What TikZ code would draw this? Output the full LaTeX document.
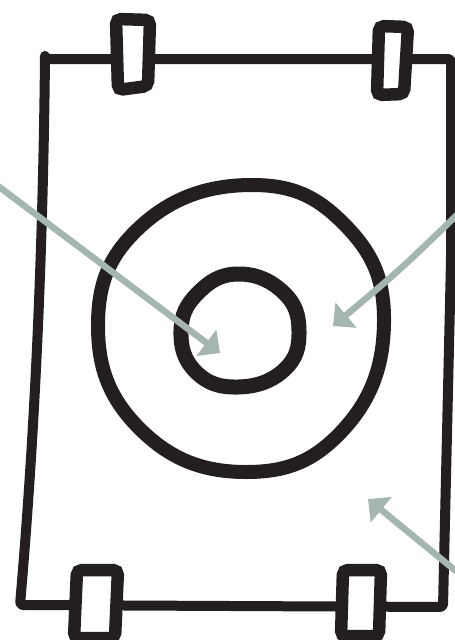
\documentclass[tikz,border=0pt]{standalone}
\usepackage{xcolor}
\usetikzlibrary{arrows.meta}
\definecolor{ink}{RGB}{35,31,32}
\definecolor{sage}{RGB}{164,182,173}

\begin{document}
\begin{tikzpicture}[x=1pt, y=-1pt,
  frame/.style={draw=ink, line width=10pt, line join=round, rounded corners=3pt},
  clamp/.style={draw=ink, fill=white, line width=12.5pt, rounded corners=5pt},
  ring/.style={draw=ink, line width=14pt},
  pointer/.style={draw=sage, line width=6.5pt,
                  -{Triangle[length=17pt, width=32pt]}},
]
  \clip (0,0) rectangle (455,640);

  % Sheet outline
  \draw[frame] (45,59) -- (451,59) -- (451,260) -- (443,607) -- (20,605)
       .. controls (36,420) and (43,240) .. (45,59) -- cycle;

  % Clips at the corners
  \draw[clamp] (116,19) -- (150,20) -- (148,86) -- (118,90) -- cycle;
  \draw[clamp] (379,26) -- (408,27) -- (404,94) -- (377,95) -- cycle;
  \draw[clamp] (77,570) -- (118,570) -- (115,638) -- (74,638) -- cycle;
  \draw[clamp] (343,570) -- (381,570) -- (379,636) -- (341,636) -- cycle;

  % Outer ring
  \draw[ring] plot[smooth cycle, tension=0.75] coordinates
       {(384,322) (345,225) (250,185) (140,227) (98,326) (140,429) (245,472) (343,430)};

  % Inner ring
  \draw[ring, line width=15pt] plot[smooth cycle, tension=0.75] coordinates
       {(299,331) (283,292) (238,274) (198,293) (181,331) (196,372) (238,387) (284,370)};

  % Pointer ends
  \coordinate (srcA) at (-6,183);
  \coordinate (core) at (220,353);
  \coordinate (srcB) at (462,210);
  \coordinate (band) at (333,326);
  \coordinate (srcC) at (462,576);
  \coordinate (field) at (368,499);

  % Pointers
  \draw[pointer] (srcA) -- (core);
  \draw[pointer] (srcB) .. controls (400,270) .. (band);
  \draw[pointer] (srcC) -- (field);

\end{tikzpicture}
\end{document}
